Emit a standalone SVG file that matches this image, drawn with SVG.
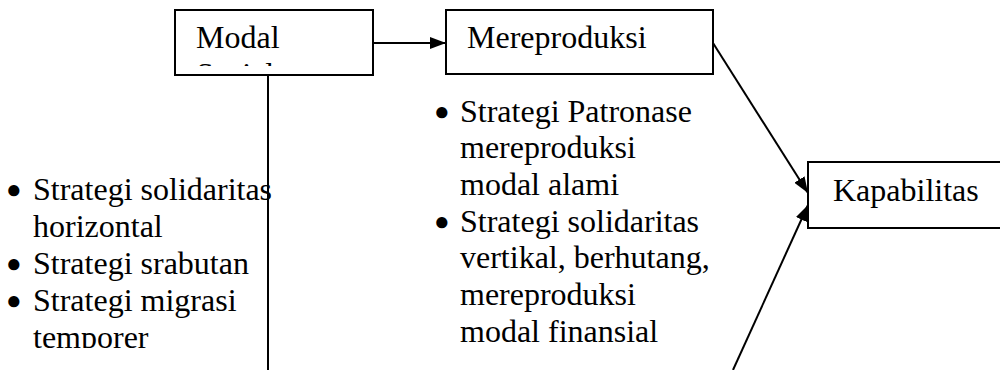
<svg xmlns="http://www.w3.org/2000/svg" width="1000" height="370" viewBox="0 0 1000 370">
<style>
.box{fill:#fff;stroke:#000;stroke-width:2}
.t{font-family:"Liberation Serif","Times New Roman",serif;font-size:32px;fill:#000}
.b{font-size:26px}
.c{stroke:#000;stroke-width:2;fill:none}
</style>
<defs>
<marker id="ah" viewBox="0 0 16 12" refX="16" refY="6" markerWidth="16" markerHeight="12" markerUnits="userSpaceOnUse" orient="auto">
<path d="M0,0 L16,6 L0,12 z" fill="#000"/>
</marker>
<clipPath id="clipModal"><rect x="176" y="11" width="196" height="55"/></clipPath>
<clipPath id="clipLeft"><rect x="0" y="150" width="300" height="198"/></clipPath>
</defs>
<g id="connectors">
<line class="c" x1="373" y1="43" x2="446" y2="43" marker-end="url(#ah)"/>
<line class="c" x1="268" y1="75" x2="268" y2="370"/>
<line class="c" x1="713" y1="43" x2="808" y2="193" marker-end="url(#ah)"/>
<line class="c" x1="733" y1="370" x2="808" y2="205" marker-end="url(#ah)"/>
</g>
<g id="modal">
<rect class="box" x="175" y="10" width="198" height="65"/>
<g clip-path="url(#clipModal)">
<text class="t" x="196" y="48">Modal</text>
<text class="t" x="196" y="85">Sosial</text>
</g>
</g>
<g id="mereproduksi">
<rect class="box" x="446" y="10" width="267" height="64"/>
<text class="t" x="467" y="48">Mereproduksi</text>
</g>
<g id="kapabilitas">
<rect class="box" x="808" y="162" width="200" height="66"/>
<text class="t" x="833" y="201">Kapabilitas</text>
</g>
<g id="left-list" clip-path="url(#clipLeft)">
<text class="t"><tspan class="b" x="6" y="198">●</tspan><tspan x="33" y="200">Strategi solidaritas</tspan></text>
<text class="t" x="33" y="237">horizontal</text>
<text class="t"><tspan class="b" x="6" y="272">●</tspan><tspan x="33" y="274">Strategi srabutan</tspan></text>
<text class="t"><tspan class="b" x="6" y="309">●</tspan><tspan x="33" y="311">Strategi migrasi</tspan></text>
<text class="t" x="33" y="348">temporer</text>
</g>
<g id="middle-list">
<text class="t"><tspan class="b" x="434" y="120">●</tspan><tspan x="460" y="122">Strategi Patronase</tspan></text>
<text class="t" x="460" y="158">mereproduksi</text>
<text class="t" x="460" y="195">modal alami</text>
<text class="t"><tspan class="b" x="434" y="230">●</tspan><tspan x="460" y="232">Strategi solidaritas</tspan></text>
<text class="t" x="460" y="268">vertikal, berhutang,</text>
<text class="t" x="460" y="305">mereproduksi</text>
<text class="t" x="460" y="342">modal finansial</text>
</g>
</svg>
